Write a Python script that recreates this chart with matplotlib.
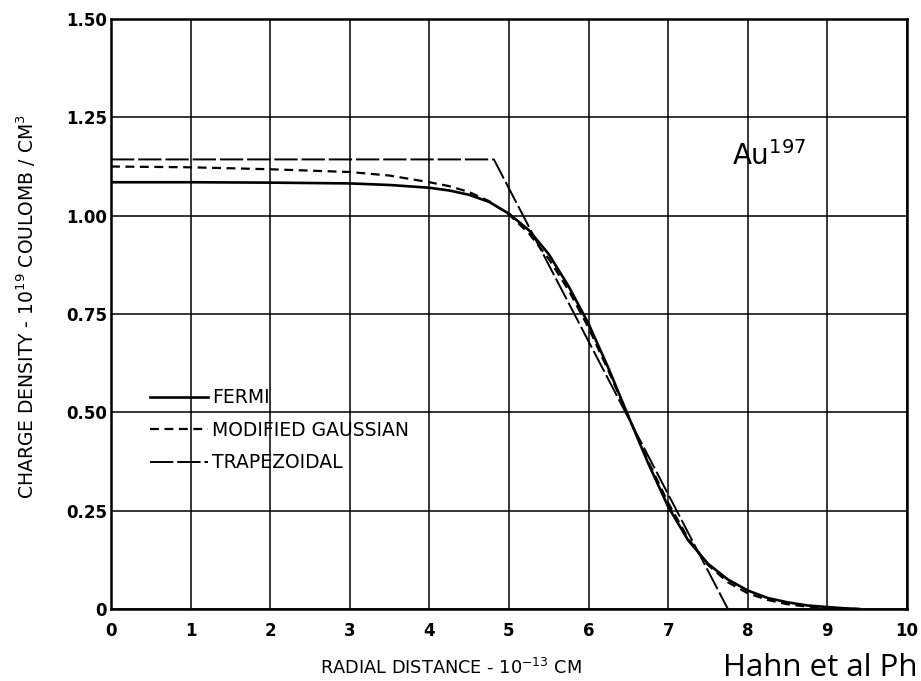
import matplotlib
matplotlib.use("Agg")
import matplotlib.pyplot as plt

# values (Au-197 charge distributions)
fermi_r = [0, 1, 2, 3, 3.5, 4, 4.25, 4.5, 4.75, 5, 5.25, 5.5, 5.75, 6, 6.25,
           6.5, 6.75, 7, 7.25, 7.5, 7.75, 8, 8.25, 8.5, 8.75, 9, 9.2, 9.4]
fermi_rho = [1.085, 1.085, 1.084, 1.082, 1.078, 1.071, 1.064, 1.053, 1.035,
             1.005, 0.963, 0.902, 0.82, 0.725, 0.612, 0.49, 0.37, 0.26, 0.175,
             0.115, 0.075, 0.047, 0.028, 0.017, 0.009, 0.005, 0.002, 0.0]

gauss_r = [0, 1, 2, 3, 3.5, 4, 4.25, 4.5, 4.75, 5, 5.25, 5.5, 5.75, 6, 6.25,
           6.5, 6.75, 7, 7.25, 7.5, 7.75, 8, 8.25, 8.5, 8.75, 9, 9.2, 9.4]
gauss_rho = [1.125, 1.123, 1.118, 1.111, 1.102, 1.085, 1.075, 1.06, 1.037,
             1.003, 0.955, 0.89, 0.81, 0.715, 0.605, 0.49, 0.375, 0.27, 0.18,
             0.112, 0.068, 0.04, 0.023, 0.012, 0.006, 0.003, 0.001, 0.0]

trap_r = [0, 4.81, 7.75]
trap_rho = [1.143, 1.143, 0.0]

x_ticks = [0, 1, 2, 3, 4, 5, 6, 7, 8, 9, 10]
y_ticks = [0, 0.25, 0.5, 0.75, 1.0, 1.25, 1.5]
y_tick_labels = ['0', '0.25', '0.50', '0.75', '1.00', '1.25', '1.50']

plt.rcParams['mathtext.default'] = 'regular'

fig = plt.figure(figsize=(9.21, 6.81), dpi=100)
ax = fig.add_axes([0.1205, 0.1057, 0.8643, 0.8664])

ax.plot(fermi_r, fermi_rho, color='black', lw=1.9, label='FERMI')
ax.plot(gauss_r, gauss_rho, color='black', lw=1.6, dashes=(4, 2.5),
        label='MODIFIED GAUSSIAN')
ax.plot(trap_r, trap_rho, color='black', lw=1.4, dashes=(12, 2),
        label='TRAPEZOIDAL')

ax.set_xlim(0, 10)
ax.set_ylim(0, 1.5)
ax.set_xticks(x_ticks)
ax.set_xticklabels([str(t) for t in x_ticks], fontsize=12, fontweight='bold')
ax.set_yticks(y_ticks)
ax.set_yticklabels(y_tick_labels, fontsize=12, fontweight='bold')
ax.tick_params(axis='both', length=0)
ax.tick_params(axis='x', pad=9)
ax.tick_params(axis='y', pad=3)
ax.grid(True, color='black', lw=1.1)
ax.set_axisbelow(True)
for s in ax.spines.values():
    s.set_linewidth(1.8)

ax.set_xlabel('RADIAL DISTANCE - 10$^{-13}$ CM', fontsize=12.8)
ax.xaxis.set_label_coords(0.427, -0.083)
ax.set_ylabel('CHARGE DENSITY - 10$^{19}$ COULOMB / CM$^{3}$', fontsize=13.5)
ax.yaxis.set_label_coords(-0.092, 0.512)

ax.text(7.8, 1.129, 'Au$^{197}$', fontsize=20, va='baseline', ha='left')

leg = ax.legend(loc='upper left', bbox_to_anchor=(0.04, 0.387), frameon=False,
                fontsize=13.5, handlelength=3.1, handletextpad=0.2,
                labelspacing=0.72, borderaxespad=0)

fig.text(0.785, 0.008, 'Hahn et al Ph', fontsize=22.5, family='Open Sans',
         va='baseline', ha='left')

fig.savefig('out.png', dpi=100)
